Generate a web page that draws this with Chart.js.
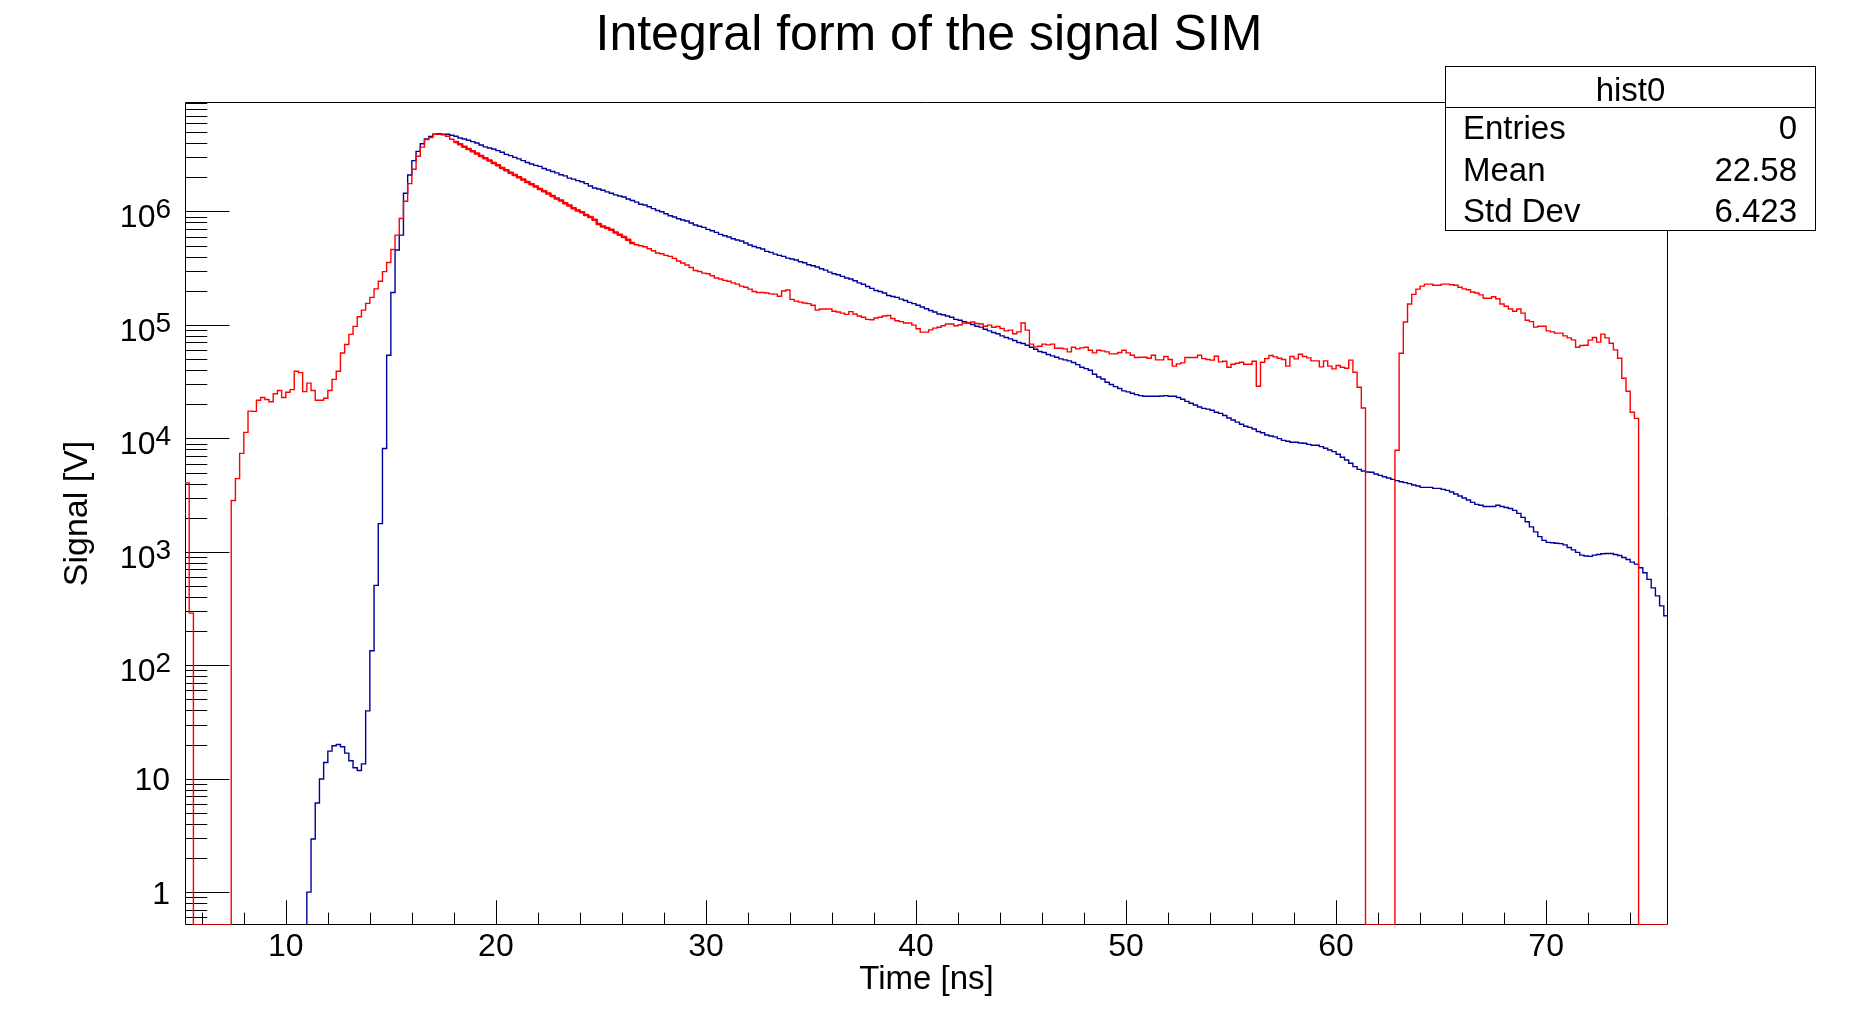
<!DOCTYPE html>
<html>
<head>
<meta charset="utf-8">
<title>Integral form of the signal SIM</title>
<script src="https://cdn.jsdelivr.net/npm/chart.js@4.4.1/dist/chart.umd.min.js"></script>
<style>
  html, body { margin: 0; padding: 0; background: #fff; }
  #wrap { width: 1853px; height: 1027px; position: relative; }
</style>
</head>
<body>
<div id="wrap"><canvas id="signalChart"></canvas></div>
<script>
// histogram binning: 353 bins of 0.2 ns starting at 5.2 ns
const binLow = 5.2;
const binWidth = 0.2;
const xRange = [5.2, 75.8];
const yRange = [0.513, 9.23e6];

const chartTitle = 'Integral form of the signal SIM';
const xTitle = 'Time [ns]';
const yTitle = 'Signal [V]';

const xTickValues = [10, 20, 30, 40, 50, 60, 70];
const xTickLabels = ['10', '20', '30', '40', '50', '60', '70'];
const yTickValues = [1, 10, 100, 1e3, 1e4, 1e5, 1e6];
const yTickLabels = ['1', '10', '10^2', '10^3', '10^4', '10^5', '10^6'];

const statsName = 'hist0';
const statsLabels = ['Entries', 'Mean', 'Std Dev'];
const statsValues = ['0', '22.58', '6.423'];

// red histogram, one value per bin from 5.2 ns
const redValues = [
  4050, 288,
  0, 0, 0, 0, 0, 0, 0, 0, 0,
  2830, 4420, 7380, 11300, 17400, 17300, 21700, 22900, 22000, 21000,
  24700, 26400, 22900, 25500, 26900, 39000, 38000, 25800, 30700, 26400,
  21700, 21700, 22600, 26400, 33100, 39000, 56500, 67200, 82600, 97200,
  118000, 135000, 155000, 175000, 208000, 243000, 295000, 355000, 462000, 619000,
  868000, 1.23e6, 1.76e6, 2.36e6, 3.07e6, 3.69e6, 4.30e6, 4.49e6, 4.80e6, 4.80e6,
  4.74e6, 4.60e6, 4.33e6, 4.10e6, 3.91e6, 3.73e6, 3.56e6, 3.40e6, 3.24e6, 3.09e6,
  2.94e6, 2.81e6, 2.68e6, 2.55e6, 2.42e6, 2.31e6, 2.20e6, 2.10e6, 2.00e6, 1.91e6,
  1.82e6, 1.74e6, 1.66e6, 1.58e6, 1.51e6, 1.44e6, 1.37e6,
  1.30e6, 1.25e6, 1.18e6, 1.13e6, 1.07e6, 1.02e6, 9.83e5, 9.31e5, 8.94e5, 8.47e5,
  7.75e5, 7.39e5, 7.15e5, 6.91e5, 6.54e5, 6.24e5, 5.95e5, 5.64e5, 5.27e5,
  5.09e5, 4.99e5, 4.89e5, 4.70e5, 4.51e5, 4.30e5, 4.24e5, 4.10e5, 4.02e5, 3.86e5,
  3.66e5, 3.51e5, 3.37e5, 3.21e5, 3.02e5, 2.96e5, 2.86e5, 2.83e5, 2.71e5, 2.59e5,
  2.54e5, 2.47e5, 2.43e5, 2.35e5, 2.29e5, 2.20e5, 2.15e5, 2.07e5, 1.97e5, 1.93e5,
  1.93e5, 1.91e5, 1.88e5, 1.87e5, 1.79e5, 1.99e5, 2.03e5, 1.68e5, 1.62e5, 1.59e5,
  1.56e5, 1.54e5, 1.49e5, 1.35e5, 1.38e5, 1.38e5, 1.38e5, 1.32e5, 1.30e5, 1.27e5,
  1.24e5, 1.31e5, 1.25e5, 1.20e5, 1.17e5, 1.12e5, 1.11e5, 1.15e5, 1.17e5, 1.20e5,
  1.21e5, 1.14e5, 1.09e5, 1.07e5, 1.04e5, 1.04e5, 9.95e4, 9.24e4, 8.64e4, 8.64e4,
  9.05e4, 9.37e4,
  9.55e4, 9.82e4, 1.02e5, 1.02e5, 9.82e4, 1.00e5, 1.04e5, 1.04e5, 1.06e5, 1.03e5,
  1.02e5, 9.75e4, 9.95e4, 9.55e4, 9.68e4, 9.30e4, 8.87e4, 8.99e4, 8.35e4, 8.69e4,
  1.04e5, 8.99e4, 6.77e4, 6.41e4, 6.49e4, 6.77e4, 6.67e4, 6.77e4, 6.23e4, 6.23e4,
  6.15e4, 5.79e4, 6.36e4, 6.15e4, 6.28e4, 6.36e4, 5.99e4, 5.67e4, 5.99e4, 5.91e4,
  5.79e4, 5.56e4, 5.56e4, 5.71e4, 5.99e4, 5.67e4, 5.41e4, 5.16e4, 5.19e4, 5.19e4,
  5.09e4, 5.41e4, 4.92e4, 4.92e4, 5.27e4, 4.95e4, 4.33e4, 4.54e4, 4.63e4, 5.16e4,
  5.16e4, 5.16e4, 5.41e4, 5.05e4, 4.95e4, 4.89e4, 5.30e4, 4.72e4, 4.79e4, 4.24e4,
  4.50e4, 4.60e4, 4.69e4, 4.50e4, 4.50e4, 4.79e4, 2.88e4, 4.69e4, 5.05e4, 5.37e4,
  5.23e4, 5.09e4, 4.95e4, 4.33e4, 5.27e4, 5.02e4, 5.52e4,
  5.27e4, 5.12e4, 4.82e4, 4.82e4, 4.27e4, 4.82e4, 4.33e4, 4.10e4, 4.39e4, 4.24e4,
  4.15e4, 4.89e4, 3.83e4, 2.82e4, 1.85e4,
  0, 0, 0, 0, 0, 0, 0,
  7.85e3, 5.63e4, 1.06e5, 1.53e5, 1.86e5, 2.07e5, 2.20e5, 2.29e5, 2.29e5, 2.24e5,
  2.24e5, 2.29e5, 2.29e5, 2.26e5, 2.24e5, 2.15e5, 2.08e5, 2.04e5, 1.95e5, 1.91e5,
  1.84e5, 1.72e5, 1.72e5, 1.77e5, 1.70e5, 1.53e5, 1.46e5, 1.38e5, 1.32e5, 1.38e5,
  1.27e5, 1.10e5, 1.07e5, 9.56e4, 9.75e4, 9.75e4, 8.87e4, 8.69e4, 8.46e4, 8.46e4,
  8.01e4, 7.69e4, 7.39e4, 6.36e4, 6.58e4, 6.63e4, 7.34e4, 7.74e4, 7.05e4, 8.29e4,
  7.69e4, 6.90e4, 6.03e4, 5.09e4, 3.39e4, 2.60e4, 1.70e4, 1.50e4,
  0, 0, 0, 0, 0, 0, 0
];

// blue histogram, same binning
const blueValues = [
  0, 0, 0, 0, 0, 0, 0, 0, 0, 0, 0, 0, 0, 0, 0, 0, 0, 0, 0, 0, 0, 0, 0, 0, 0, 0, 0, 0, 0,
  1.0, 2.94, 6.1, 9.95, 13.9, 17.5, 19.5, 20.0, 19.1, 16.8,
  14.4, 12.5, 11.8, 13.5, 39.6, 134, 506, 1770, 8130, 54000,
  1.93e5, 4.57e5, 6.19e5, 1.45e6, 2.10e6, 2.81e6, 3.39e6, 3.95e6, 4.35e6, 4.59e6,
  4.80e6, 4.84e6,
  4.80e6, 4.80e6, 4.70e6, 4.60e6, 4.45e6, 4.36e6, 4.25e6, 4.13e6, 4.02e6, 3.86e6,
  3.71e6, 3.63e6, 3.56e6, 3.44e6, 3.33e6, 3.19e6, 3.11e6, 3.00e6, 2.91e6, 2.81e6,
  2.70e6, 2.62e6, 2.55e6, 2.50e6, 2.39e6, 2.32e6, 2.25e6,
  2.19e6, 2.11e6, 2.06e6, 1.97e6, 1.93e6, 1.87e6, 1.83e6, 1.76e6, 1.68e6, 1.61e6,
  1.58e6, 1.54e6, 1.49e6, 1.45e6, 1.40e6, 1.37e6, 1.34e6, 1.29e6, 1.25e6, 1.21e6,
  1.16e6, 1.14e6, 1.10e6, 1.06e6, 1.02e6, 9.96e5, 9.56e5, 9.18e5, 8.94e5, 8.64e5,
  8.41e5, 8.24e5, 7.91e5, 7.60e5, 7.40e5, 7.24e5, 6.96e5, 6.77e5, 6.54e5, 6.28e5,
  6.12e5, 5.95e5, 5.75e5, 5.60e5, 5.49e5, 5.27e5, 5.06e5, 4.92e5, 4.79e5, 4.67e5,
  4.45e5, 4.36e5, 4.21e5, 4.10e5, 4.02e5, 3.88e5, 3.81e5, 3.73e5, 3.61e5, 3.53e5,
  3.39e5, 3.32e5, 3.24e5, 3.13e5, 3.04e5, 2.92e5, 2.83e5, 2.77e5, 2.68e5, 2.59e5,
  2.54e5, 2.45e5, 2.35e5, 2.28e5, 2.18e5, 2.10e5, 2.01e5, 1.97e5, 1.91e5, 1.82e5,
  1.78e5, 1.75e5, 1.69e5, 1.64e5, 1.58e5, 1.54e5, 1.49e5, 1.44e5, 1.39e5, 1.34e5,
  1.30e5,
  1.25e5, 1.23e5, 1.20e5, 1.17e5, 1.12e5, 1.10e5, 1.07e5, 1.04e5, 1.01e5, 9.75e4,
  9.56e4, 9.17e4, 8.87e4, 8.57e4, 8.35e4, 8.01e4, 7.74e4, 7.54e4, 7.29e4, 7.00e4,
  6.86e4, 6.63e4, 6.36e4, 6.11e4, 5.83e4, 5.71e4, 5.48e4, 5.34e4, 5.19e4, 5.02e4,
  4.92e4, 4.82e4, 4.66e4, 4.47e4, 4.24e4, 4.12e4, 3.99e4, 3.68e4, 3.48e4, 3.34e4,
  3.12e4, 2.98e4, 2.86e4, 2.75e4, 2.62e4, 2.57e4, 2.50e4, 2.43e4, 2.38e4, 2.35e4,
  2.35e4, 2.35e4, 2.35e4, 2.36e4, 2.38e4, 2.35e4, 2.35e4, 2.29e4, 2.21e4, 2.12e4,
  2.04e4, 1.97e4, 1.89e4, 1.84e4, 1.81e4, 1.77e4, 1.70e4, 1.66e4, 1.59e4, 1.51e4,
  1.45e4, 1.39e4, 1.33e4, 1.28e4, 1.25e4, 1.21e4, 1.15e4, 1.12e4, 1.07e4, 1.05e4,
  1.03e4, 9.94e3, 9.61e3, 9.42e3, 9.23e3, 9.23e3, 9.11e3,
  9.05e3, 8.86e3, 8.69e3, 8.69e3, 8.46e3, 8.17e3, 7.90e3, 7.64e3, 7.24e3, 6.81e3,
  6.45e3, 6.03e3, 5.63e3, 5.33e3, 5.16e3, 5.05e3, 5.02e3, 4.85e3, 4.72e3, 4.59e3,
  4.47e3, 4.35e3, 4.24e3, 4.15e3, 4.07e3, 3.99e3, 3.88e3, 3.80e3, 3.70e3, 3.70e3,
  3.70e3, 3.62e3, 3.62e3, 3.55e3, 3.48e3, 3.37e3, 3.23e3, 3.10e3, 2.98e3, 2.86e3,
  2.73e3, 2.62e3, 2.57e3, 2.51e3, 2.51e3, 2.51e3, 2.57e3, 2.51e3, 2.46e3, 2.41e3,
  2.32e3, 2.18e3, 2.01e3, 1.84e3, 1.66e3, 1.50e3, 1.36e3, 1.26e3, 1.21e3, 1.20e3,
  1.19e3, 1.18e3, 1.15e3, 1.09e3, 1.04e3, 988, 935, 917, 911, 935,
  948, 961, 967, 967, 948, 929, 892, 856, 811, 779,
  723, 653, 571, 481, 409, 334, 273
];

// the red curve is drawn heavier between these bins (finely sampled part)
const redFineFrom = 64;   // 18.0 ns
const redFineTo = 107;    // 26.6 ns

const fontFamily = '"Liberation Sans", Arial, Helvetica, sans-serif';
const BLUE_INDEX = 2;

// bin contents -> step points at the low edges, plus the last upper edge.
// empty bins are put at `floor` (axis bottom for red, below it for blue)
function toSteps(values, from, to, floor) {
  const pts = [];
  for (let i = from; i < to; i++) {
    const v = values[i] > 0 ? values[i] : floor;
    pts.push({ x: binLow + i * binWidth, y: v });
  }
  pts.push({ x: binLow + to * binWidth, y: pts[pts.length - 1].y });
  return pts;
}

function px(v) {
  return Math.round(v) + 0.5;
}

const rootFrame = {
  id: 'rootFrame',
  afterDatasetDraw(chart, args) {
    // frame + ticks go over the blue histogram, under the red one
    if (args.index !== BLUE_INDEX) return;
    const { ctx, chartArea: a, scales: { x, y } } = chart;
    const frameH = a.bottom - a.top;
    const frameW = a.right - a.left;
    ctx.save();
    ctx.strokeStyle = '#000';
    ctx.lineWidth = 1;
    ctx.beginPath();
    ctx.rect(px(a.left), px(a.top), Math.round(frameW) - 1, Math.round(frameH) - 1);
    ctx.stroke();

    ctx.beginPath();
    for (let t = 6; t < xRange[1]; t += 2) {
      const xp = px(x.getPixelForValue(t));
      const len = t % 10 === 0 ? 0.03 * frameH : 0.015 * frameH;
      ctx.moveTo(xp, a.bottom);
      ctx.lineTo(xp, a.bottom - len);
    }
    for (let d = -1; d <= 6; d++) {
      for (let m = 1; m <= 9; m++) {
        const v = m * Math.pow(10, d);
        if (v < yRange[0] || v > yRange[1]) continue;
        const yp = px(y.getPixelForValue(v));
        const len = m === 1 ? 0.03 * frameW : 0.015 * frameW;
        ctx.moveTo(a.left, yp);
        ctx.lineTo(a.left + len, yp);
      }
    }
    ctx.stroke();
    ctx.restore();
  },
  afterDraw(chart) {
    const { ctx, scales: { y } } = chart;
    ctx.save();
    ctx.fillStyle = '#000';

    // log axis labels with raised exponents
    ctx.textAlign = 'right';
    ctx.textBaseline = 'alphabetic';
    yTickValues.forEach((v, i) => {
      const yp = y.getPixelForValue(v);
      const parts = yTickLabels[i].split('^');
      if (parts.length === 2) {
        ctx.font = '28px ' + fontFamily;
        ctx.fillText(parts[1], 171, yp + 6.8);
        const w = ctx.measureText(parts[1]).width;
        ctx.font = '32px ' + fontFamily;
        ctx.fillText(parts[0], 171 - w, yp + 15.7);
      } else {
        ctx.font = '32px ' + fontFamily;
        ctx.fillText(parts[0], 170, yp + 11.5);
      }
    });

    // title
    ctx.textAlign = 'center';
    ctx.font = '50px ' + fontFamily;
    ctx.fillText(chartTitle, 929, 50);

    // stats box
    const bx = 1445, by = 66, bw = 371, bh = 165;
    ctx.fillStyle = '#fff';
    ctx.fillRect(bx, by, bw, bh);
    ctx.strokeStyle = '#000';
    ctx.lineWidth = 1;
    ctx.strokeRect(bx + 0.5, by + 0.5, bw - 1, bh - 1);
    ctx.beginPath();
    ctx.moveTo(bx, 107.5);
    ctx.lineTo(bx + bw, 107.5);
    ctx.stroke();
    ctx.fillStyle = '#000';
    ctx.font = '33px ' + fontFamily;
    ctx.textAlign = 'center';
    ctx.fillText(statsName, bx + bw / 2, 101);
    const rowBase = [139, 180.5, 221.5];
    statsLabels.forEach((lab, i) => {
      ctx.textAlign = 'left';
      ctx.fillText(lab, 1463, rowBase[i]);
      ctx.textAlign = 'right';
      ctx.fillText(statsValues[i], 1797, rowBase[i]);
    });
    ctx.restore();
  }
};

Chart.defaults.font.family = fontFamily;
Chart.defaults.color = '#000';

const nBins = redValues.length;
const ctx = document.getElementById('signalChart');

new Chart(ctx, {
  type: 'line',
  data: {
    datasets: [
      {
        label: 'red',
        data: toSteps(redValues, 0, nBins, yRange[0]),
        borderColor: '#ff0000',
        borderWidth: 1.4,
        stepped: true,
        pointRadius: 0,
        fill: false,
        order: 0
      },
      {
        label: 'red fine',
        data: toSteps(redValues, redFineFrom, redFineTo, yRange[0]),
        borderColor: '#ff0000',
        borderWidth: 2.5,
        borderJoinStyle: 'round',
        stepped: true,
        pointRadius: 0,
        fill: false,
        order: 0
      },
      {
        label: 'blue',
        data: toSteps(blueValues, 0, blueValues.length, yRange[0] / 10),
        borderColor: '#00009c',
        borderWidth: 1.4,
        stepped: true,
        pointRadius: 0,
        fill: false,
        order: 1
      }
    ]
  },
  options: {
    animation: false,
    responsive: true,
    maintainAspectRatio: false,
    layout: { padding: { top: 102, right: 185, left: 0, bottom: 0 } },
    plugins: {
      legend: { display: false },
      tooltip: { enabled: false },
      title: { display: false }
    },
    scales: {
      x: {
        type: 'linear',
        min: xRange[0],
        max: xRange[1],
        afterFit: (scale) => { scale.height = 102; },
        afterBuildTicks: (scale) => { scale.ticks = xTickValues.map(v => ({ value: v })); },
        ticks: {
          callback: (value, index) => xTickLabels[index],
          font: { size: 32 },
          color: '#000',
          padding: 3,
          maxRotation: 0,
          autoSkip: false
        },
        grid: { display: false, drawTicks: false },
        border: { display: false },
        title: {
          display: true,
          text: xTitle,
          color: '#000',
          font: { size: 33 },
          padding: { top: 0, bottom: 27 }
        }
      },
      y: {
        type: 'logarithmic',
        min: yRange[0],
        max: yRange[1],
        afterFit: (scale) => { scale.width = 185; },
        ticks: { display: false },
        grid: { display: false, drawTicks: false },
        border: { display: false },
        title: {
          display: true,
          text: yTitle,
          color: '#000',
          font: { size: 34 },
          padding: { top: 57.6, bottom: 0 }
        }
      }
    }
  },
  plugins: [rootFrame]
});
</script>
</body>
</html>
